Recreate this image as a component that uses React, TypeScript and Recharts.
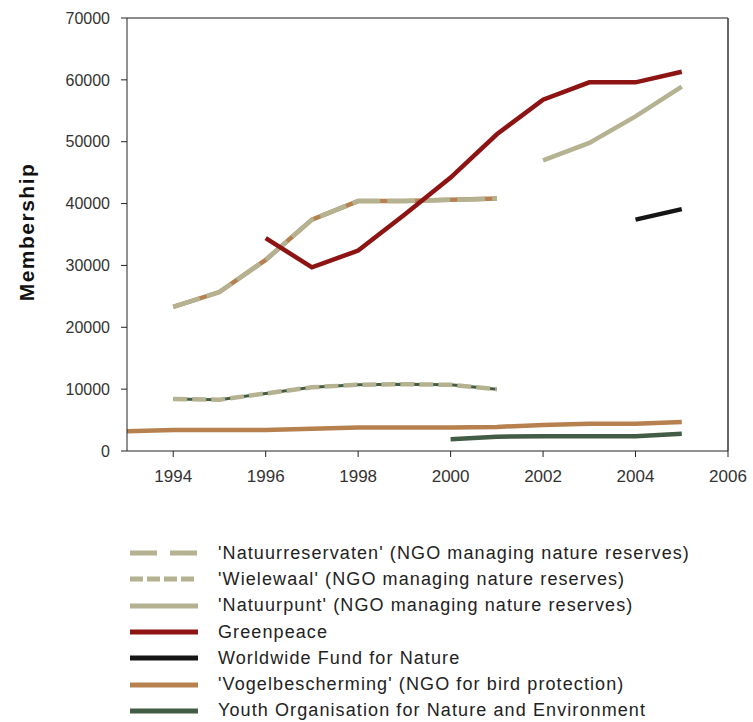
import React from 'react';
import { LineChart, Line, XAxis, YAxis, ReferenceLine } from 'recharts';

const years = [1993, 1994, 1995, 1996, 1997, 1998, 1999, 2000, 2001, 2002, 2003, 2004, 2005];
const natuurreservaten = [null, 23300, 25700, 30900, 37400, 40400, 40400, 40600, 40800, null, null, null, null];
const wielewaal = [null, 8400, 8300, 9300, 10300, 10700, 10800, 10700, 10000, null, null, null, null];
const natuurpunt = [null, null, null, null, null, null, null, null, null, 47000, 49800, 54100, 58900];
const greenpeace = [null, null, null, 34400, 29700, 32400, 38200, 44200, 51200, 56800, 59600, 59600, 61300];
const wwf = [null, null, null, null, null, null, null, null, null, null, null, 37400, 39100];
const vogelbescherming = [3200, 3400, 3400, 3400, 3600, 3800, 3800, 3800, 3900, 4200, 4400, 4400, 4700];
const youth = [null, null, null, null, null, null, null, 1900, 2300, 2400, 2400, 2400, 2800];

const xTicks = [1994, 1996, 1998, 2000, 2002, 2004, 2006];
const yTicks = [0, 10000, 20000, 30000, 40000, 50000, 60000, 70000];

const BEIGE = '#b4b291';
const RED = '#8e1414';
const BLACK = '#151515';
const BROWN = '#b6814f';
const GREEN = '#435c45';

const legendItems = [
  { label: "'Natuurreservaten' (NGO managing nature reserves)", color: BEIGE, dash: '27 13' },
  { label: "'Wielewaal' (NGO managing nature reserves)", color: BEIGE, dash: '13 4' },
  { label: "'Natuurpunt' (NGO managing nature reserves)", color: BEIGE, dash: undefined },
  { label: 'Greenpeace', color: RED, dash: undefined },
  { label: 'Worldwide Fund for Nature', color: BLACK, dash: undefined },
  { label: "'Vogelbescherming' (NGO for bird protection)", color: BROWN, dash: undefined },
  { label: 'Youth Organisation for Nature and Environment', color: GREEN, dash: undefined },
];

const data = years.map((year, i) => ({
  year,
  natuurreservaten: natuurreservaten[i],
  wielewaal: wielewaal[i],
  natuurpunt: natuurpunt[i],
  greenpeace: greenpeace[i],
  wwf: wwf[i],
  vogelbescherming: vogelbescherming[i],
  youth: youth[i],
}));

const FONT = 'Arial, "Liberation Sans", sans-serif';
const W = 4.5;

export default function App() {
  return (
    <div style={{ position: 'absolute', left: 0, top: 0, width: 753, height: 722, background: '#fff', fontFamily: FONT }}>
      <LineChart width={753} height={500} data={data} margin={{ top: 18, right: 25, left: 0, bottom: 0 }}>
        <XAxis
          dataKey="year"
          type="number"
          domain={[1993, 2006]}
          ticks={xTicks}
          height={49}
          tickSize={6}
          tickMargin={13}
          stroke="#222"
          tick={{ fill: '#333', fontSize: 17, fontFamily: FONT }}
        />
        <YAxis
          type="number"
          domain={[0, 70000]}
          ticks={yTicks}
          width={127}
          tickSize={6}
          tickMargin={11}
          stroke="#222"
          tick={{ fill: '#333', fontSize: 16, fontFamily: FONT }}
        />
        <ReferenceLine y={70000} stroke="#666" strokeWidth={1.5} />
        <ReferenceLine x={2006} stroke="#333" strokeWidth={1.5} />

        <Line dataKey="vogelbescherming" stroke={BROWN} strokeWidth={W} dot={false} activeDot={false} isAnimationActive={false} type="linear" />
        <Line dataKey="youth" stroke={GREEN} strokeWidth={W} dot={false} activeDot={false} isAnimationActive={false} type="linear" />

        <Line key="nr-under" dataKey="natuurreservaten" stroke={BROWN} strokeWidth={W} dot={false} activeDot={false} isAnimationActive={false} type="linear" />
        <Line key="nr" dataKey="natuurreservaten" stroke={BEIGE} strokeWidth={W} strokeDasharray="28 7" dot={false} activeDot={false} isAnimationActive={false} type="linear" />

        <Line key="ww-under" dataKey="wielewaal" stroke={GREEN} strokeWidth={3} dot={false} activeDot={false} isAnimationActive={false} type="linear" />
        <Line key="ww" dataKey="wielewaal" stroke={BEIGE} strokeWidth={W} strokeDasharray="14 5" dot={false} activeDot={false} isAnimationActive={false} type="linear" />

        <Line dataKey="natuurpunt" stroke={BEIGE} strokeWidth={W} dot={false} activeDot={false} isAnimationActive={false} type="linear" />
        <Line dataKey="wwf" stroke={BLACK} strokeWidth={W} dot={false} activeDot={false} isAnimationActive={false} type="linear" />
        <Line dataKey="greenpeace" stroke={RED} strokeWidth={W} dot={false} activeDot={false} isAnimationActive={false} type="linear" />
      </LineChart>

      <div
        style={{
          position: 'absolute',
          left: 27,
          top: 232,
          transform: 'translate(-50%, -50%) rotate(-90deg)',
          fontSize: 21,
          fontWeight: 700,
          letterSpacing: 1.5,
          color: '#111',
          whiteSpace: 'nowrap',
        }}
      >
        Membership
      </div>

      <div style={{ position: 'absolute', left: 130, top: 540 }}>
        {legendItems.map((item) => (
          <div key={item.label} style={{ display: 'flex', alignItems: 'center', height: 26.3 }}>
            <svg width={68} height={8} style={{ flexShrink: 0 }}>
              <line x1={0} y1={4} x2={68} y2={4} stroke={item.color} strokeWidth={5} strokeDasharray={item.dash} />
            </svg>
            <span style={{ marginLeft: 20, fontSize: 18, letterSpacing: 1.1, color: '#222', whiteSpace: 'nowrap' }}>{item.label}</span>
          </div>
        ))}
      </div>
    </div>
  );
}
